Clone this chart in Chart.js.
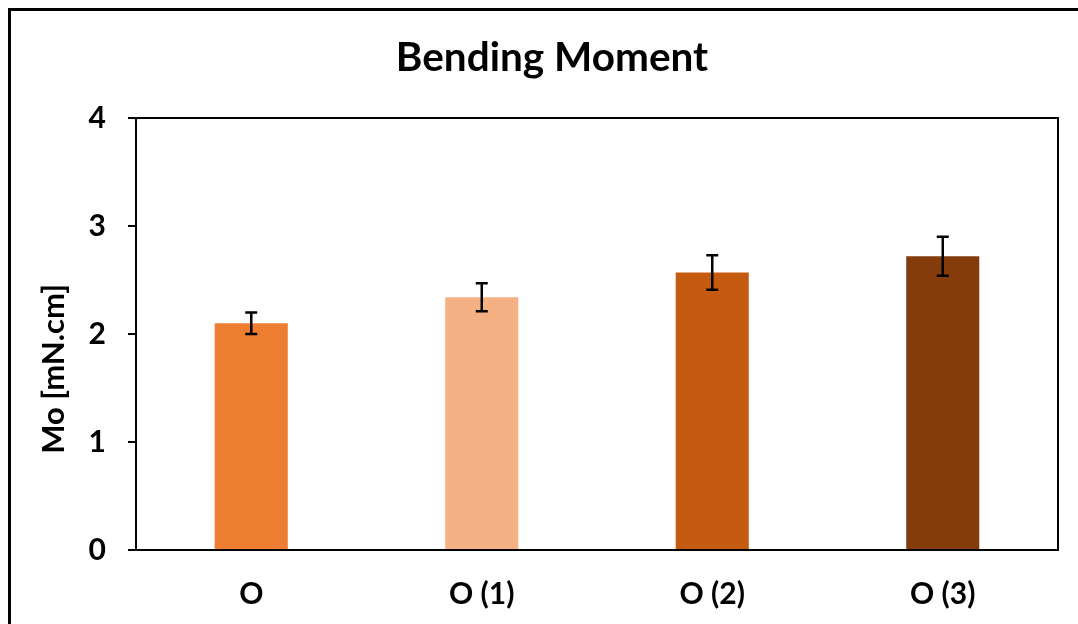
<!DOCTYPE html>
<html>
<head>
<meta charset="utf-8">
<script src="https://cdn.jsdelivr.net/npm/chart.js@4.4.1/dist/chart.umd.min.js"></script>
<style>
html,body{margin:0;padding:0;background:#fff;overflow:hidden;}
canvas{display:block;}
</style>
</head>
<body>
<canvas id="c" width="1078" height="624"></canvas>
<script>
const categories = ["O", "O (1)", "O (2)", "O (3)"];
const values = [2.10, 2.34, 2.57, 2.72];
const errors = [0.10, 0.13, 0.16, 0.18];
const barColors = ["#ED7D31", "#F4B183", "#C55A11", "#843C0C"];
const chartTitle = "Bending Moment";
const yTitle = "Mo [mN.cm]";
const FONT = "Lato, 'Open Sans', sans-serif";

const framePlugin = {
  id: 'frame',
  beforeDraw(chart) {
    const ctx = chart.ctx;
    ctx.save();
    ctx.fillStyle = '#fff';
    ctx.fillRect(0, 0, chart.width, chart.height);
    ctx.strokeStyle = '#000';
    ctx.lineWidth = 3;
    ctx.strokeRect(9.5, 9.5, 2000, 2000);
    ctx.restore();
  },
  afterDraw(chart) {
    const a = chart.chartArea, ctx = chart.ctx;
    ctx.save();
    ctx.strokeStyle = '#000';
    ctx.lineWidth = 2;
    ctx.strokeRect(a.left, a.top, a.right - a.left, a.bottom - a.top);
    ctx.fillStyle = '#000';
    ctx.textAlign = 'center';
    ctx.textBaseline = 'middle';
    // chart title
    ctx.font = "bold 40.5px " + FONT;
    ctx.fillText(chartTitle, 552, 58);
    // y-axis title
    ctx.translate(54, 369);
    ctx.rotate(-Math.PI / 2);
    ctx.font = "bold 31px " + FONT;
    ctx.fillText(yTitle, 0, 0);
    ctx.restore();
  }
};

const errorBarPlugin = {
  id: 'errbars',
  afterDatasetsDraw(chart) {
    const ctx = chart.ctx, y = chart.scales.y;
    const meta = chart.getDatasetMeta(0);
    ctx.save();
    ctx.strokeStyle = '#000';
    ctx.lineWidth = 2.5;
    meta.data.forEach((bar, i) => {
      const x = bar.x;
      const yt = y.getPixelForValue(values[i] + errors[i]);
      const yb = y.getPixelForValue(values[i] - errors[i]);
      ctx.beginPath();
      ctx.moveTo(x, yt); ctx.lineTo(x, yb);
      ctx.moveTo(x - 6, yt); ctx.lineTo(x + 6, yt);
      ctx.moveTo(x - 6, yb); ctx.lineTo(x + 6, yb);
      ctx.stroke();
    });
    ctx.restore();
  }
};

new Chart(document.getElementById('c'), {
  type: 'bar',
  data: {
    labels: categories,
    datasets: [{
      data: values,
      backgroundColor: barColors,
      borderWidth: 0,
      barPercentage: 1,
      categoryPercentage: 0.317
    }]
  },
  options: {
    responsive: false,
    devicePixelRatio: 1,
    animation: false,
    layout: { padding: { left: 0, right: 20, top: 118, bottom: 0 } },
    plugins: {
      legend: { display: false },
      tooltip: { enabled: false },
      title: { display: false }
    },
    scales: {
      x: {
        grid: { display: false },
        border: { display: true, color: '#000', width: 2 },
        ticks: { color: '#000', font: { family: FONT, size: 30, weight: 'bold', lineHeight: 1.2 }, padding: 18, maxRotation: 0 },
        afterFit(s) { s.height = 74; }
      },
      y: {
        min: 0, max: 4,
        grid: { display: true, drawOnChartArea: false, drawTicks: true, tickLength: 8, color: '#000', lineWidth: 2 },
        border: { display: true, color: '#000', width: 2 },
        ticks: { stepSize: 1, color: '#000', font: { family: FONT, size: 30, weight: 'bold', lineHeight: 1.2 }, padding: 22 },
        afterFit(s) { s.width = 136; }
      }
    }
  },
  plugins: [framePlugin, errorBarPlugin]
});
</script>
</body>
</html>
